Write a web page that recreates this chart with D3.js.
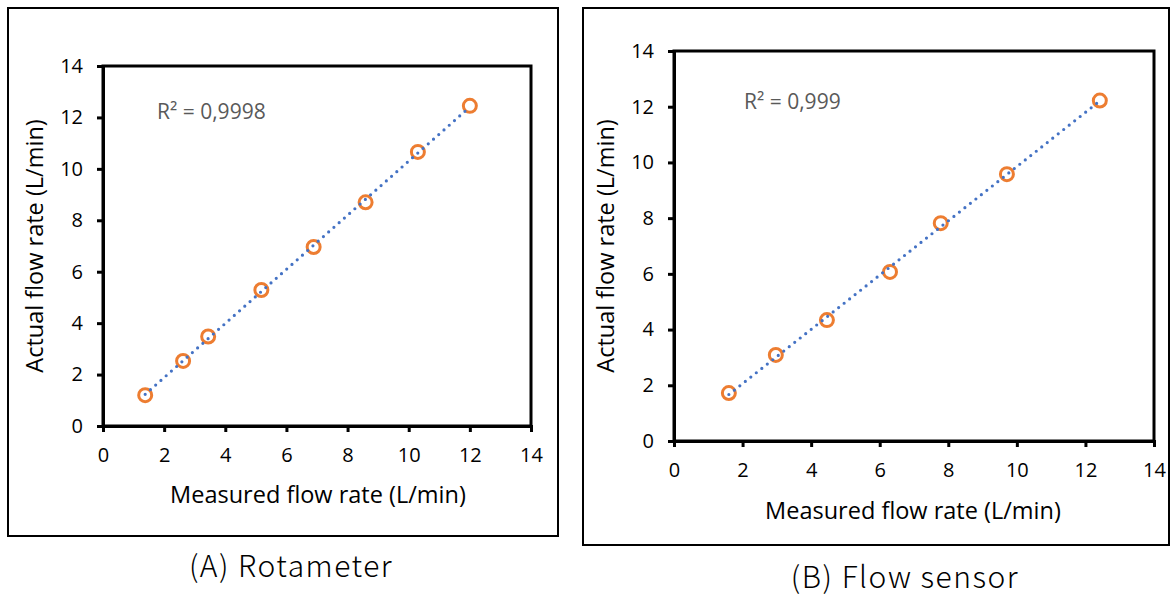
<!DOCTYPE html>
<html>
<head>
<meta charset="utf-8">
<script src="https://cdn.jsdelivr.net/npm/d3@7"></script>
<style>
  body { margin: 0; background: #fff; }
  svg { display: block; }
</style>
</head>
<body>
<div id="app"></div>
<script>
// Data
const rotameterMeasured = [1.38, 2.62, 3.44, 5.18, 6.89, 8.59, 10.3, 12.0];
const rotameterActual   = [1.2, 2.53, 3.48, 5.29, 6.96, 8.7, 10.66, 12.45];
const sensorMeasured = [1.6, 2.97, 4.46, 6.3, 7.78, 9.71, 12.42];
const sensorActual   = [1.72, 3.09, 4.34, 6.07, 7.82, 9.58, 12.22];
const axisTicks = [0, 2, 4, 6, 8, 10, 12, 14];
const r2Labels = ['R² = 0,9998', 'R² = 0,999'];
const captions = ['(A) Rotameter', '(B) Flow sensor'];
const xTitle = 'Measured flow rate (L/min)';
const yTitle = 'Actual flow rate (L/min)';

const width = 1173, height = 597;
const font = '"Open Sans", sans-serif';

const svg = d3.select('#app').append('svg')
    .attr('width', width)
    .attr('height', height);

// layout of each panel (frame + plot area)
const panels = [
  {
    xs: rotameterMeasured, ys: rotameterActual, r2: r2Labels[0], caption: captions[0],
    frame: { x: 8, y: 8, w: 550, h: 528 },
    plot: { x0: 103, x1: 531, y0: 66, y1: 426 },
    r2pos: [157, 119], yTitleX: 35, xTitleX: 318, xTitleY: 503, captionPos: [291, 577]
  },
  {
    xs: sensorMeasured, ys: sensorActual, r2: r2Labels[1], caption: captions[1],
    frame: { x: 583, y: 8, w: 586, h: 537 },
    plot: { x0: 674, x1: 1154, y0: 51, y1: 441 },
    r2pos: [744, 109], yTitleX: 606, xTitleX: 913, xTitleY: 519, captionPos: [905, 588]
  }
];

panels.forEach(p => {
  const g = svg.append('g');

  // outer frame
  g.append('rect')
      .attr('x', p.frame.x).attr('y', p.frame.y)
      .attr('width', p.frame.w).attr('height', p.frame.h)
      .attr('fill', 'none')
      .attr('stroke', '#000')
      .attr('stroke-width', 2);

  const x = d3.scaleLinear().domain([0, 14]).range([p.plot.x0, p.plot.x1]);
  const y = d3.scaleLinear().domain([0, 14]).range([p.plot.y1, p.plot.y0]);

  // plot area border
  g.append('rect')
      .attr('x', p.plot.x0).attr('y', p.plot.y0)
      .attr('width', p.plot.x1 - p.plot.x0).attr('height', p.plot.y1 - p.plot.y0)
      .attr('fill', 'none')
      .attr('stroke', '#000')
      .attr('stroke-width', 3);

  const xAxis = g.append('g')
      .attr('transform', `translate(0,${p.plot.y1})`)
      .call(d3.axisBottom(x).tickValues(axisTicks).tickSize(6).tickPadding(16));
  const yAxis = g.append('g')
      .attr('transform', `translate(${p.plot.x0},0)`)
      .call(d3.axisLeft(y).tickValues(axisTicks).tickSize(6).tickPadding(14));

  [xAxis, yAxis].forEach(a => {
    a.select('.domain').attr('stroke', '#000').attr('stroke-width', 3);
    a.selectAll('.tick line').attr('stroke', '#000').attr('stroke-width', 3);
    a.selectAll('.tick text')
        .attr('fill', '#000')
        .style('font-family', font)
        .style('font-size', '20px');
  });

  // linear trendline (least squares over the points)
  const mx = d3.mean(p.xs), my = d3.mean(p.ys);
  const slope = d3.sum(p.xs, (v, i) => (v - mx) * (p.ys[i] - my)) / d3.sum(p.xs, v => (v - mx) ** 2);
  const icpt = my - slope * mx;
  const xr = d3.extent(p.xs);

  const pts = p.xs.map((v, i) => ({ x: v, y: p.ys[i] }));

  g.selectAll('circle.pt')
      .data(pts)
      .enter().append('circle')
      .attr('class', 'pt')
      .attr('cx', d => x(d.x))
      .attr('cy', d => y(d.y))
      .attr('r', 6.5)
      .attr('fill', '#fff')
      .attr('stroke', '#ED7D31')
      .attr('stroke-width', 3);

  g.append('line')
      .attr('x1', x(xr[0])).attr('y1', y(icpt + slope * xr[0]))
      .attr('x2', x(xr[1])).attr('y2', y(icpt + slope * xr[1]))
      .attr('stroke', '#4472C4')
      .attr('stroke-width', 3.2)
      .attr('stroke-linecap', 'round')
      .attr('stroke-dasharray', '0 7');

  // R² label
  g.append('text')
      .attr('x', p.r2pos[0]).attr('y', p.r2pos[1])
      .attr('fill', '#595959')
      .style('font-family', font)
      .style('font-size', '21px')
      .text(p.r2);

  // axis titles
  g.append('text')
      .attr('x', p.xTitleX)
      .attr('y', p.xTitleY)
      .attr('text-anchor', 'middle')
      .attr('fill', '#000')
      .style('font-family', font)
      .style('font-size', '23.5px')
      .text(xTitle);

  g.append('text')
      .attr('transform', `translate(${p.yTitleX},${(p.plot.y0 + p.plot.y1) / 2}) rotate(-90)`)
      .attr('text-anchor', 'middle')
      .attr('dy', '0.35em')
      .attr('fill', '#000')
      .style('font-family', font)
      .style('font-size', '23.5px')
      .text(yTitle);

  // caption under the frame
  svg.append('text')
      .attr('x', p.captionPos[0]).attr('y', p.captionPos[1])
      .attr('text-anchor', 'middle')
      .attr('fill', '#000')
      .style('font-family', '"Noto Sans CJK JP", sans-serif')
      .style('font-weight', 300)
      .style('font-size', '30px')
      .style('letter-spacing', '1.5px')
      .text(p.caption);
});
</script>
</body>
</html>
